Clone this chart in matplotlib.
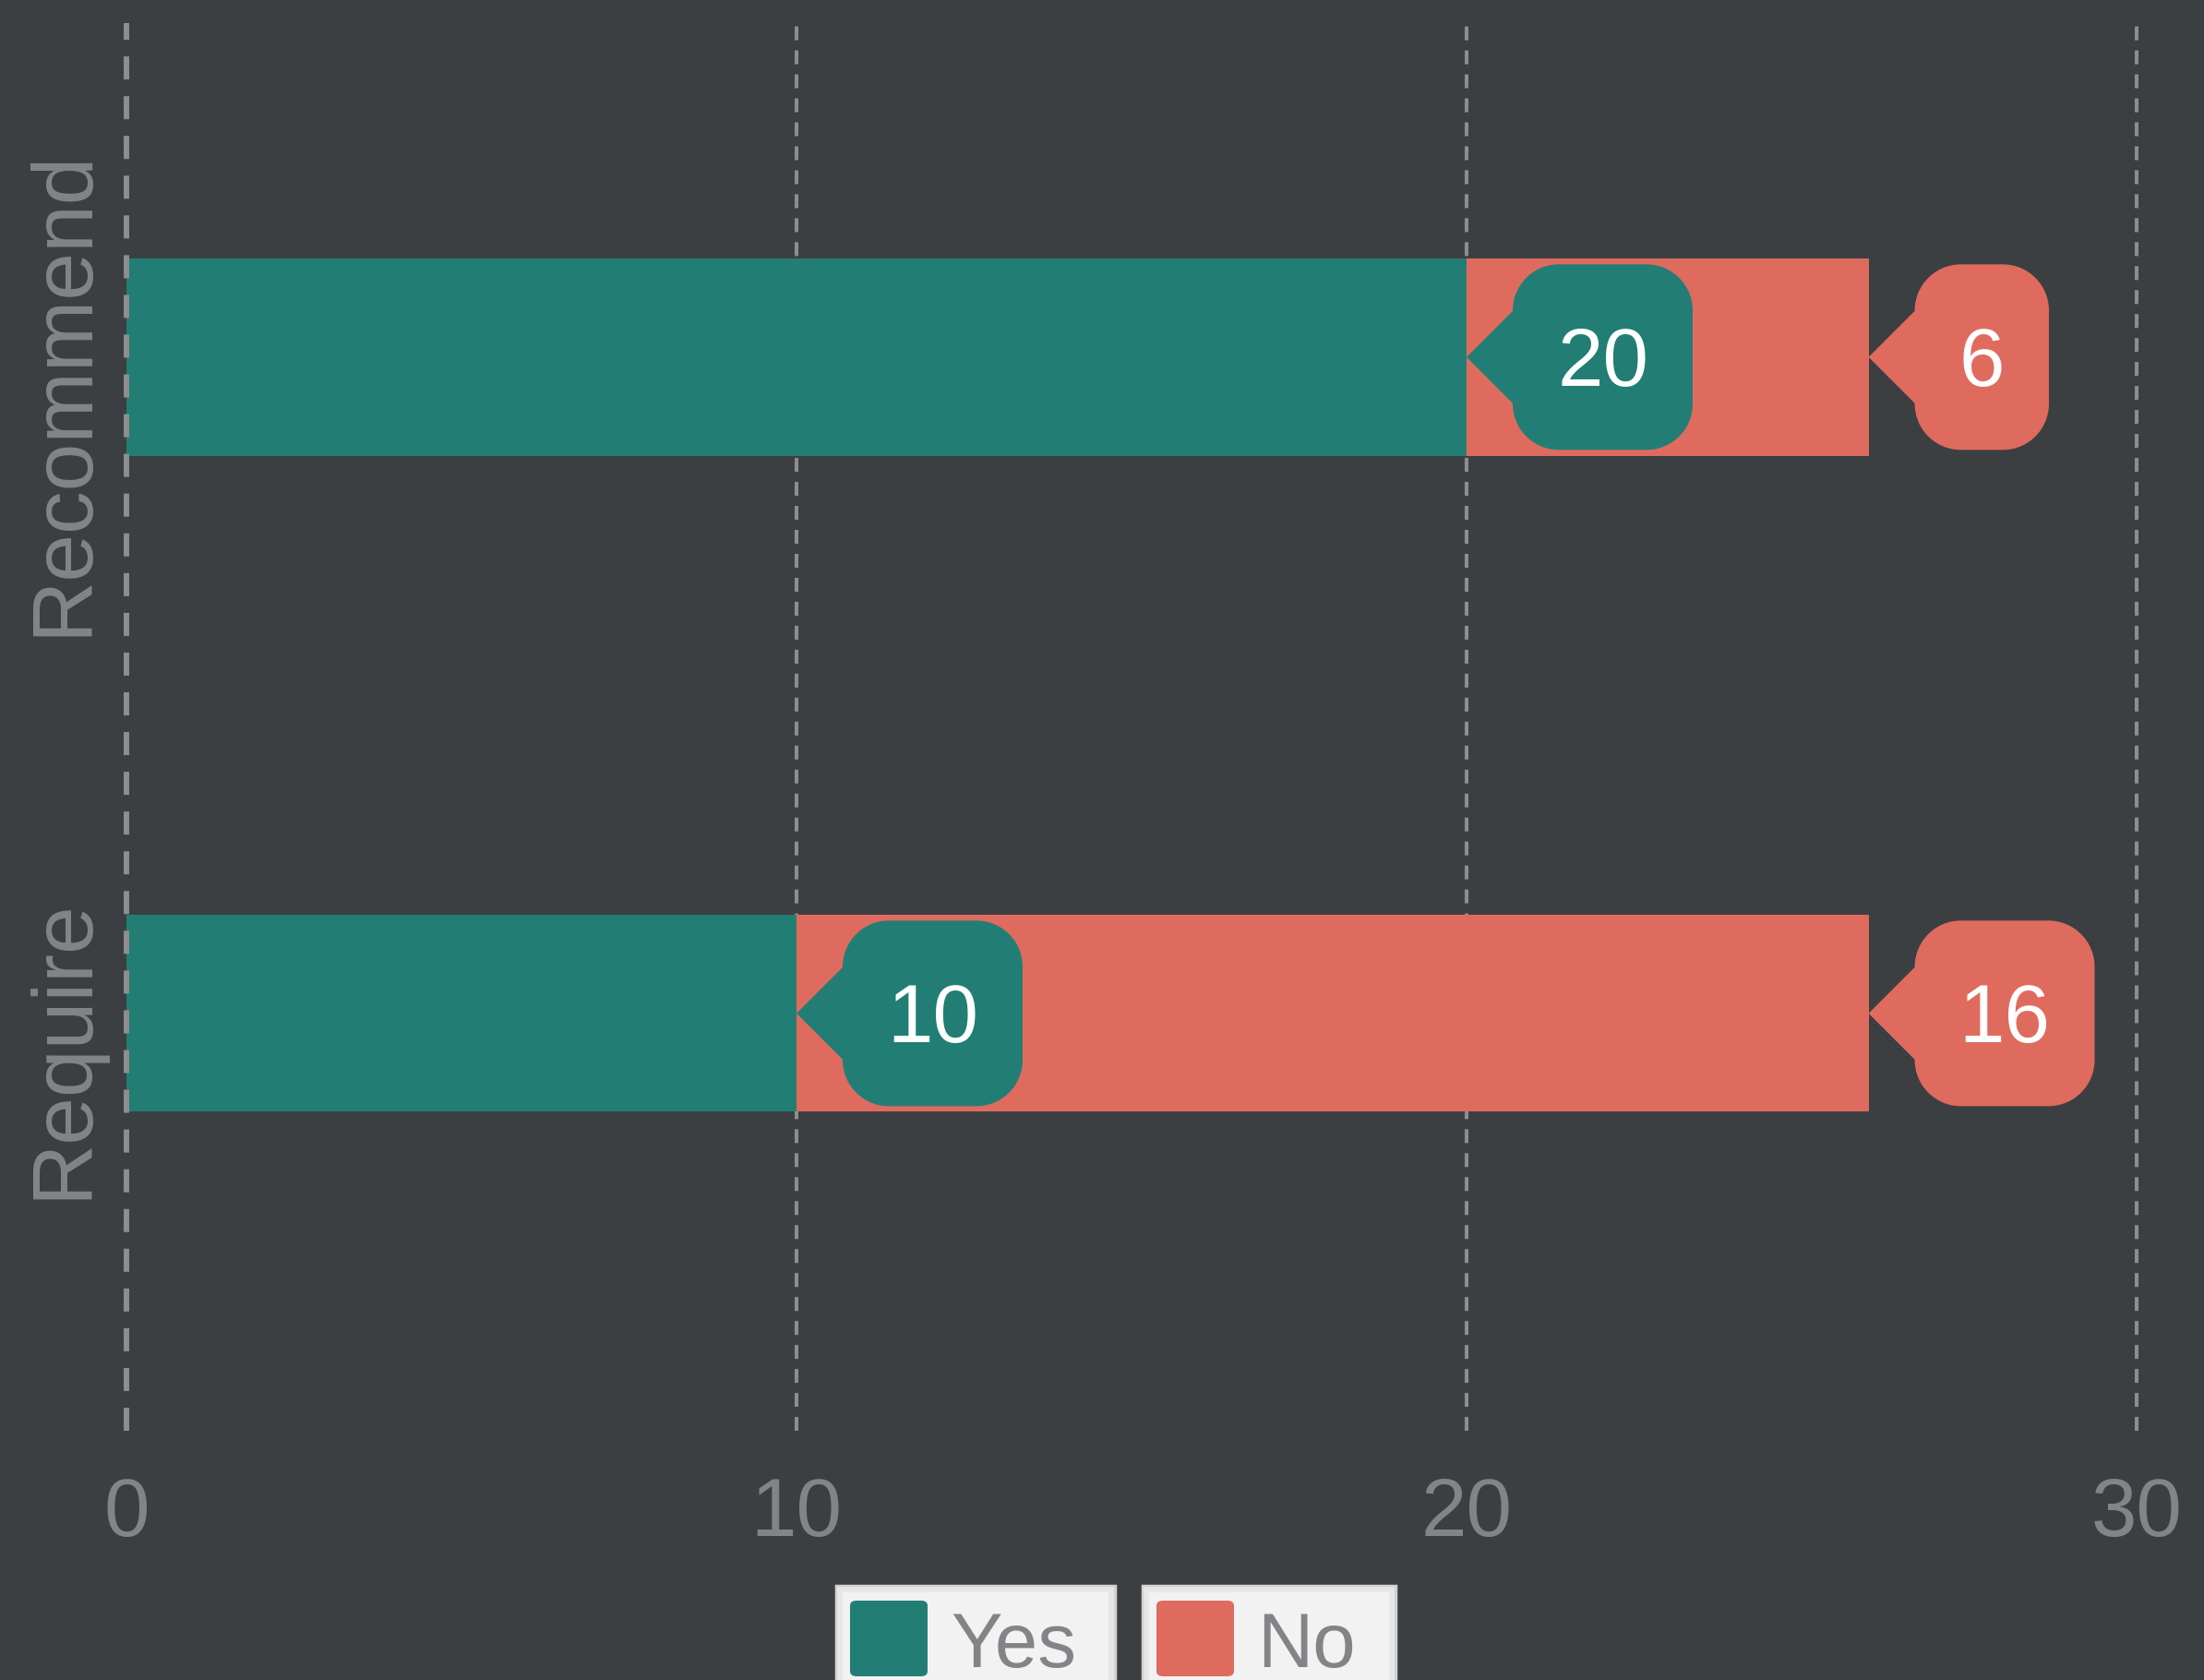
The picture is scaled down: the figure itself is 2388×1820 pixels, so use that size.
"""
Stacked horizontal bar chart: Recommend / Require (Yes vs No)
"""

import matplotlib
matplotlib.use('Agg')
import matplotlib.pyplot as plt
import matplotlib.transforms as mtransforms
from matplotlib.patches import FancyBboxPatch, PathPatch, Rectangle
from matplotlib.path import Path
from matplotlib.font_manager import FontProperties

# data
categories = ['Require', 'Recommend']
series_names = ['Yes', 'No']
yes_values = [10, 20]
no_values = [16, 6]
x_ticks = [0, 10, 20, 30]

# style
BG = '#3c3f42'
TEAL = '#227e74'
RED = '#df6b5f'
TEXT_GRAY = '#828487'
GRID_GRAY = '#8e8e8e'
FONT = 'Liberation Sans'
DPI = 100
W, H = 2388, 1820

plt.rcParams['font.family'] = [FONT, 'DejaVu Sans']
plt.rcParams['lines.scale_dashes'] = False

fig = plt.figure(figsize=(W / DPI, H / DPI), dpi=DPI, facecolor=BG)
ax = fig.add_axes([137 / W, 1 - 1550 / H, (2315 - 137) / W, (1550 - 25) / H])
ax.set_facecolor(BG)
for s in ax.spines.values():
    s.set_visible(False)

y_pos = list(range(len(categories)))
bar_h = 0.30
ax.barh(y_pos, yes_values, height=bar_h, color=TEAL, zorder=2, label='Yes')
ax.barh(y_pos, no_values, left=yes_values, height=bar_h, color=RED, zorder=2, label='No')

ax.set_xlim(0, 30)
ax.set_ylim(-0.636, 1.509)

# grid lines
ax.set_xticks(x_ticks)
ax.set_xticklabels([str(t) for t in x_ticks])
for t in x_ticks[1:]:
    ax.axvline(t, color=GRID_GRAY, lw=2.9, ls=(0, (10.8, 7.9)), zorder=1, clip_on=False)
ax.axvline(0, color=GRID_GRAY, lw=4.3, ls=(0, (18, 13)), zorder=5, clip_on=False)

ax.tick_params(axis='x', length=0, pad=35, labelsize=64, labelcolor=TEXT_GRAY)
ax.tick_params(axis='y', length=0, pad=18, labelsize=67, labelcolor=TEXT_GRAY)
ax.set_yticks(y_pos)
ax.set_yticklabels(categories, rotation=90, va='center', ha='right')
shift = mtransforms.ScaledTranslation(0, -38 / DPI, fig.dpi_scale_trans)
for lab in ax.get_yticklabels():
    lab.set_transform(lab.get_transform() + shift)

# callout labels
renderer = fig.canvas.get_renderer()
label_fp = FontProperties(family=FONT, size=64)
gap, tri_h, half_h, radius, pad = 50, 50, 100.5, 50, 48
K = 0.5523


def callout_path(bw):
    x0, x1 = gap, gap + bw
    y0, y1 = -half_h, half_h
    r = radius
    k = r * K
    verts = [
        (0, 0), (x0, tri_h), (x0, y1 - r),
        (x0, y1 - r + k), (x0 + r - k, y1), (x0 + r, y1),
        (x1 - r, y1),
        (x1 - r + k, y1), (x1, y1 - r + k), (x1, y1 - r),
        (x1, y0 + r),
        (x1, y0 + r - k), (x1 - r + k, y0), (x1 - r, y0),
        (x0 + r, y0),
        (x0 + r - k, y0), (x0, y0 + r - k), (x0, y0 + r),
        (x0, -tri_h), (0, 0),
    ]
    codes = [Path.MOVETO, Path.LINETO, Path.LINETO,
             Path.CURVE4, Path.CURVE4, Path.CURVE4,
             Path.LINETO,
             Path.CURVE4, Path.CURVE4, Path.CURVE4,
             Path.LINETO,
             Path.CURVE4, Path.CURVE4, Path.CURVE4,
             Path.LINETO,
             Path.CURVE4, Path.CURVE4, Path.CURVE4,
             Path.LINETO, Path.CLOSEPOLY]
    return Path(verts, codes)


def callout(x, y, value, color):
    trans = mtransforms.ScaledTranslation(x, y, ax.transData)
    tw, _, _ = renderer.get_text_width_height_descent(str(value), label_fp, ismath=False)
    bw = tw + 2 * pad
    ax.add_patch(PathPatch(callout_path(bw), transform=trans, facecolor=color,
                           edgecolor='none', zorder=6))
    ax.text(gap + bw / 2, -31, str(value), transform=trans, fontproperties=label_fp,
            color='white', ha='center', va='baseline', zorder=7)


for i in range(len(categories)):
    callout(yes_values[i], y_pos[i], yes_values[i], TEAL)
    callout(yes_values[i] + no_values[i], y_pos[i], no_values[i], RED)

# legend boxes (figure pixels)
legend_items = [(series_names[0], TEAL, 906, 1208), (series_names[1], RED, 1238, 1512)]
for name, color, x0, x1 in legend_items:
    fig.patches.append(Rectangle((x0 / W, -0.02), (x1 - x0) / W, (H - 1718) / H + 0.02,
                                 transform=fig.transFigure, facecolor='#f2f2f2',
                                 edgecolor='#d2d2d2', lw=2.5, zorder=1))
    fig.patches.append(Rectangle(((x0 + 4) / W, -0.02), (x1 - x0 - 8) / W, (H - 1722) / H + 0.02,
                                 transform=fig.transFigure, facecolor='none',
                                 edgecolor='#e6e6e6', lw=4, zorder=2))
    fig.patches.append(FancyBboxPatch(((x0 + 15) / W, 1 - 1816 / H), 84 / W, 82 / H,
                                      boxstyle='round,pad=0,rounding_size=0.003',
                                      transform=fig.transFigure, facecolor=color,
                                      edgecolor='none', zorder=3))
    fig.text((x0 + 124) / W, 1 - 1806 / H, name, color=TEXT_GRAY, fontsize=60,
             ha='left', va='baseline', family=FONT)

fig.savefig('out.png', dpi=DPI, facecolor=BG)
